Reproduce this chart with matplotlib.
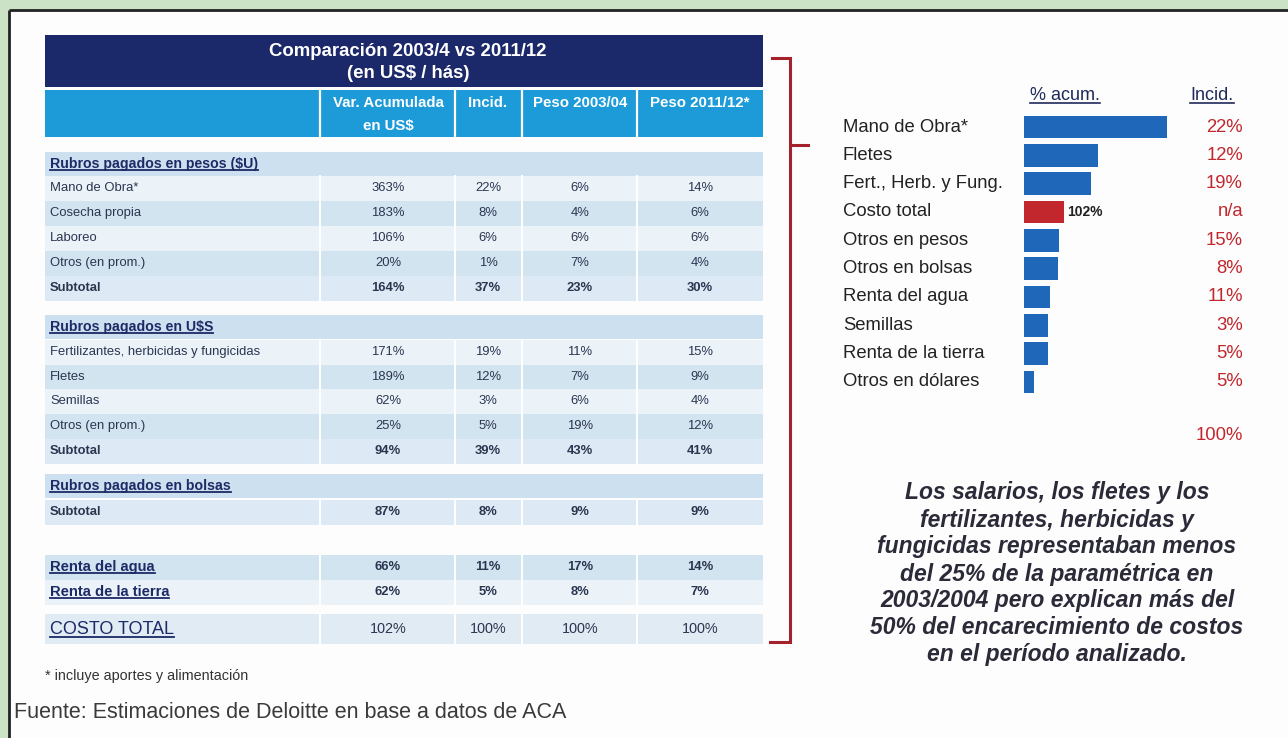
import matplotlib
matplotlib.use("Agg")
import matplotlib.pyplot as plt
from matplotlib.patches import Rectangle
from matplotlib import font_manager as fm
import matplotlib.transforms as mtransforms

# ---------------- DATA ----------------
table_title = ["Comparación 2003/4 vs 2011/12", "(en US$ / hás)"]
col_headers = ["Var. Acumulada\nen US$", "Incid.", "Peso 2003/04", "Peso 2011/12*"]

sec_pesos = "Rubros pagados en pesos ($U)"
pesos_rows = ["Mano de Obra*", "Cosecha propia", "Laboreo", "Otros (en prom.)", "Subtotal"]
pesos_var = [363, 183, 106, 20, 164]
pesos_incid = [22, 8, 6, 1, 37]
pesos_p03 = [6, 4, 6, 7, 23]
pesos_p11 = [14, 6, 6, 4, 30]

sec_usd = "Rubros pagados en U$S"
usd_rows = ["Fertilizantes, herbicidas y fungicidas", "Fletes", "Semillas", "Otros (en prom.)", "Subtotal"]
usd_var = [171, 189, 62, 25, 94]
usd_incid = [19, 12, 3, 5, 39]
usd_p03 = [11, 7, 6, 19, 43]
usd_p11 = [15, 9, 4, 12, 41]

sec_bolsas = "Rubros pagados en bolsas"
bolsas_rows = ["Subtotal"]
bolsas_var = [87]
bolsas_incid = [8]
bolsas_p03 = [9]
bolsas_p11 = [9]

renta_rows = ["Renta del agua", "Renta de la tierra"]
renta_var = [66, 62]
renta_incid = [11, 5]
renta_p03 = [17, 8]
renta_p11 = [14, 7]

total_label = "COSTO TOTAL"
total_vals = [102, 100, 100, 100]

footnote = "* incluye aportes y alimentación"
source = "Fuente: Estimaciones de Deloitte en base a datos de ACA"

bar_labels = ["Mano de Obra*", "Fletes", "Fert., Herb. y Fung.", "Costo total",
              "Otros en pesos", "Otros en bolsas", "Renta del agua", "Semillas",
              "Renta de la tierra", "Otros en dólares"]
bar_acum = [363, 189, 171, 102, 88, 87, 66, 62, 62, 25]
bar_incid = ["22%", "12%", "19%", "n/a", "15%", "8%", "11%", "3%", "5%", "5%"]
bar_highlight = "Costo total"
incid_total = "100%"
bar_headers = ["% acum.", "Incid."]

quote_lines = ["Los salarios, los fletes y los",
               "fertilizantes, herbicidas y",
               "fungicidas representaban menos",
               "del 25% de la paramétrica en",
               "2003/2004 pero explican más del",
               "50% del encarecimiento de costos",
               "en el período analizado."]

# ---------------- STYLE / LAYOUT ----------------
W, H = 1288, 738
names = {f.name for f in fm.fontManager.ttflist}
if "Liberation Sans Narrow" in names:
    TF = "Liberation Sans Narrow"; tsz = 10.5; hsz = 14.5; csz = 12.0
else:
    TF = "Liberation Sans"; tsz = 9.4; hsz = 13.4; csz = 10.8
SF = "Liberation Sans"

NAVY = "#1b2869"
HDRBLUE = "#1d9bd9"
TXT = "#2b3550"
SECTXT = "#1c2a66"
BAND_BLUE = "#d3e4f1"
BAND_LIGHT = "#ebf3f9"
RED = "#c1272d"
BARBLUE = "#1f67b8"
BRACKET = "#a3222c"

fig = plt.figure(figsize=(W / 100, H / 100), dpi=100)
fig.patch.set_facecolor("#cbe2c6")
bg = fig.add_axes([0, 0, 1, 1])
bg.set_xlim(0, W)
bg.set_ylim(H, 0)
bg.axis("off")

# white panel with dark border on top/left
bg.add_patch(Rectangle((9, 10), W, H, facecolor="#fdfdfd", edgecolor="none", zorder=0))
bg.plot([9, W], [10, 10], color="#222222", lw=2, zorder=1, solid_capstyle="butt")
bg.plot([9, 9], [10, H], color="#222222", lw=2, zorder=1, solid_capstyle="butt")

# ---------------- TABLE ----------------
TX0, TX1 = 45, 763
col_edges = [TX0, 320, 455, 522, 637, TX1]
col_centers = [388, 488, 580, 700]

bg.add_patch(Rectangle((TX0, 35), TX1 - TX0, 52, facecolor=NAVY, edgecolor="none", zorder=2))
bg.text(408, 51, table_title[0], color="white", fontsize=hsz, fontweight="bold",
        family=TF, ha="center", va="center", zorder=3)
bg.text(408, 73, table_title[1], color="white", fontsize=hsz, fontweight="bold",
        family=TF, ha="center", va="center", zorder=3)

bg.add_patch(Rectangle((TX0, 90), TX1 - TX0, 47, facecolor=HDRBLUE, edgecolor="none", zorder=2))
for xe in col_edges[1:-1]:
    bg.plot([xe, xe], [90, 137], color="white", lw=1.6, zorder=3)
for cx, h in zip(col_centers, col_headers):
    parts = h.split("\n")
    bg.text(cx, 103, parts[0], color="white", fontsize=csz, fontweight="bold",
            family=TF, ha="center", va="center", zorder=3)
    if len(parts) > 1:
        bg.text(cx, 126, parts[1], color="white", fontsize=csz, fontweight="bold",
                family=TF, ha="center", va="center", zorder=3)

# build table rows from data
rows = []
def add_section(title, labels, v, i, p3, p11, kind="row"):
    if title is not None:
        rows.append(("section", title, None))
    for k, lab in enumerate(labels):
        kk = "sub" if lab == "Subtotal" else kind
        rows.append((kk, lab, (v[k], i[k], p3[k], p11[k])))

add_section(sec_pesos, pesos_rows, pesos_var, pesos_incid, pesos_p03, pesos_p11)
add_section(sec_usd, usd_rows, usd_var, usd_incid, usd_p03, usd_p11)
add_section(sec_bolsas, bolsas_rows, bolsas_var, bolsas_incid, bolsas_p03, bolsas_p11)
add_section(None, renta_rows, renta_var, renta_incid, renta_p03, renta_p11, kind="renta")
rows.append(("total", total_label, tuple(total_vals)))

row_y = [164, 188, 213, 238, 263, 288,
         327, 352, 377, 401, 426, 451,
         486, 512,
         567, 592,
         629]

underline_texts = []
band_idx = 0
for (kind, lab, vals), y in zip(rows, row_y):
    if kind == "section":
        bg.add_patch(Rectangle((TX0, y - 12), TX1 - TX0, 24, facecolor="#cde0ef",
                               edgecolor="none", zorder=1))
        t = bg.text(50, y, lab, color=SECTXT, fontsize=tsz + 0.8, fontweight="bold",
                    family=TF, ha="left", va="center", zorder=3)
        underline_texts.append((t, SECTXT, 1.3))
        band_idx = 0
        continue
    hgt = 30 if kind == "total" else 25
    if kind == "sub":
        col = "#dde9f4"
    else:
        col = BAND_LIGHT if band_idx % 2 == 0 else BAND_BLUE
    if kind == "renta":
        col = BAND_BLUE if lab == renta_rows[0] else BAND_LIGHT
    if kind == "total":
        col = "#e1ebf4"
    bg.add_patch(Rectangle((TX0, y - hgt / 2), TX1 - TX0, hgt, facecolor=col,
                           edgecolor="none", zorder=1))
    # white column separators within the row
    for xe in col_edges[1:-1]:
        bg.plot([xe, xe], [y - hgt / 2, y + hgt / 2], color="white", lw=1.4, zorder=2)
    band_idx += 1
    weight = "bold" if kind in ("sub", "renta") else "normal"
    vsize = tsz + (1.0 if kind == "total" else 0)
    if kind == "total":
        lsize = tsz + 3.6
    elif kind == "renta":
        lsize = tsz + 1.2
    else:
        lsize = tsz
    lcol = SECTXT if kind in ("renta", "total") else TXT
    t = bg.text(50, y, lab, color=lcol, fontsize=lsize,
                fontweight=weight, family=TF, ha="left", va="center", zorder=3)
    if kind in ("renta", "total"):
        underline_texts.append((t, SECTXT, 1.3))
    for cx, v in zip(col_centers, vals):
        bg.text(cx, y, f"{v}%", color=TXT, fontsize=vsize, fontweight=weight,
                family=TF, ha="center", va="center", zorder=3)

bg.text(45, 676, footnote, color="#333333", fontsize=tsz + 1.0, family=TF,
        ha="left", va="center", zorder=3)
bg.text(14, 713, source, color="#3a3a3a", fontsize=15.5, family=SF,
        ha="left", va="center", zorder=3)

# ---------------- BRACKET ----------------
bx = 790
bg.plot([772, bx, bx, 770], [58, 58, 642, 642], color=BRACKET, lw=2.2, zorder=3,
        solid_joinstyle="miter")
bg.plot([bx, 808], [145, 145], color=BRACKET, lw=2.2, zorder=3)

# ---------------- BAR CHART ----------------
row_px = 28.33
top_px = 127 - row_px / 2
n = len(bar_labels)
ax_w_px = 157.6
ax = fig.add_axes([1024 / W, 1 - (top_px + n * row_px) / H, ax_w_px / W, n * row_px / H])
ax.set_xlim(0, 400)
ax.set_ylim(n - 0.5, -0.5)
ax.axis("off")
ax.patch.set_alpha(0)
ypos = list(range(n))
colors = [RED if l == bar_highlight else BARBLUE for l in bar_labels]
ax.barh(ypos, bar_acum, height=0.8, color=colors, edgecolor="none")
for i, (l, v) in enumerate(zip(bar_labels, bar_acum)):
    if l == bar_highlight:
        ax.text(v + 7, i, f"{v}%", fontsize=10, fontweight="bold", color="#222222",
                family=SF, ha="left", va="center")

tr = mtransforms.blended_transform_factory(bg.transData, ax.transData)
for i, (l, inc) in enumerate(zip(bar_labels, bar_incid)):
    ax.text(843, i, l, transform=tr, fontsize=13.3, color="#222222", family=SF,
            ha="left", va="center", clip_on=False)
    ax.text(1243, i, inc, transform=tr, fontsize=13.3, color=RED, family=SF,
            ha="right", va="center", clip_on=False)
bg.text(1243, 436, incid_total, fontsize=13.3, color=RED, family=SF, ha="right", va="center")

h1 = bg.text(1065, 95, bar_headers[0], fontsize=13.0, color="#1f2a5a", family=SF,
             ha="center", va="center")
h2 = bg.text(1212, 95, bar_headers[1], fontsize=13.0, color="#1f2a5a", family=SF,
             ha="center", va="center")
underline_texts.append((h1, "#1f2a5a", 1.2))
underline_texts.append((h2, "#1f2a5a", 1.2))

# ---------------- QUOTE ----------------
for k, line in enumerate(quote_lines):
    bg.text(1057, 493 + k * 27, line, fontsize=16.5, fontweight="bold", fontstyle="italic",
            color="#2a2a38", family=SF, ha="center", va="center")

# ---------------- UNDERLINES ----------------
fig.canvas.draw()
renderer = fig.canvas.get_renderer()
for t, c, lw in underline_texts:
    bb = t.get_window_extent(renderer)
    yline = H - (bb.y0 + 1)
    bg.plot([bb.x0, bb.x1], [yline, yline], color=c, lw=lw, zorder=4)

fig.savefig("out.png", dpi=100, facecolor=fig.get_facecolor())
